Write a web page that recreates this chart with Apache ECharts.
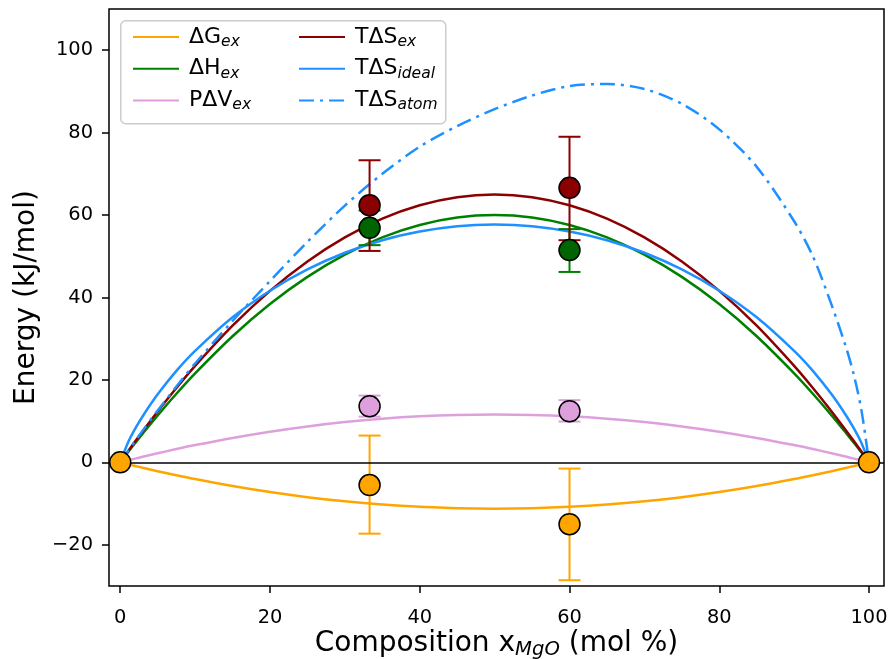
<!DOCTYPE html>
<html><head><meta charset="utf-8">
<script src="https://cdn.jsdelivr.net/npm/echarts@6/dist/echarts.min.js"></script>
<style>html,body{margin:0;padding:0;background:#fff}#c{width:893px;height:659px}</style>
</head><body><div id="c"></div>
<script>
// ---- data ----
const xs        = [0, 1, 2, 3, 5, 7.5, 10, 15, 20, 25, 30, 35, 40, 45, 50, 55, 60, 65, 70, 75, 80, 85, 90, 92.5, 95, 97, 98, 99, 100];
const dGex      = [0, -0.45, -0.88, -1.31, -2.14, -3.12, -4.05, -5.74, -7.2, -8.44, -9.45, -10.24, -10.8, -11.14, -11.25, -11.14, -10.8, -10.24, -9.45, -8.44, -7.2, -5.74, -4.05, -3.12, -2.14, -1.31, -0.88, -0.45, 0];
const dHex      = [0, 2.38, 4.7, 6.98, 11.4, 16.65, 21.6, 30.6, 38.4, 45, 50.4, 54.6, 57.6, 59.4, 60, 59.4, 57.6, 54.6, 50.4, 45, 38.4, 30.6, 21.6, 16.65, 11.4, 6.98, 4.7, 2.38, 0];
const pdVex     = [0, 0.46, 0.91, 1.35, 2.21, 3.23, 4.19, 5.93, 7.44, 8.72, 9.77, 10.58, 11.16, 11.51, 11.63, 11.51, 11.16, 10.58, 9.77, 8.72, 7.44, 5.93, 4.19, 3.23, 2.21, 1.35, 0.91, 0.46, 0];
const tdSex     = [0, 2.57, 5.1, 7.57, 12.35, 18.04, 23.4, 33.15, 41.6, 48.75, 54.6, 59.15, 62.4, 64.35, 65, 64.35, 62.4, 59.15, 54.6, 48.75, 41.6, 33.15, 23.4, 18.04, 12.35, 7.57, 5.1, 2.57, 0];
const tdSideal  = [0, 4.66, 8.16, 11.2, 16.5, 22.2, 27.05, 35.2, 41.65, 46.8, 50.85, 53.9, 56.0, 57.3, 57.7, 57.3, 56.0, 53.9, 50.85, 46.8, 41.65, 35.2, 27.05, 22.2, 16.5, 11.2, 8.16, 4.66, 0];
const tdSatom   = [0, 2.6, 5.2, 7.7, 12.6, 18.4, 24, 34.3, 44, 53.5, 62.3, 70, 76.6, 81.6, 85.7, 89, 91.3, 91.8, 90.6, 87, 80.8, 71.7, 58.5, 50, 38.2, 27.5, 21, 12.5, 0];

const ptX       = [33.3, 60];
const dGPts     = [-5.5, -15.0];
const dGLo      = [-17.3, -28.6];
const dGHi      = [6.5, -1.5];
const dHPts     = [56.9, 51.5];
const dHLo      = [52.7, 46.2];
const dHHi      = [61.1, 56.6];
const pdVPts    = [13.6, 12.4];
const pdVLo     = [11.1, 9.9];
const pdVHi     = [16.2, 15.1];
const tdSPts    = [62.4, 66.6];
const tdSLo     = [51.3, 53.9];
const tdSHi     = [73.3, 79.0];
const endX      = [0, 100];
const endY      = [0, 0];

const xTicks = [0, 20, 40, 60, 80, 100];
const yTicks = [-20, 0, 20, 40, 60, 80, 100];

// ---- chart ----
const FONT = 'DejaVu Sans';
const C = {orange:'#FFA500', green:'#008000', dgreen:'#006400', plum:'#DDA0DD', dred:'#8B0000', blue:'#1E90FF'};
const pairs = (a, b) => a.map((v, i) => [v, b[i]]);

const LBL = {
  dG: '{b|ΔG}{s|ex}', dH: '{b|ΔH}{s|ex}', pV: '{b|PΔV}{s|ex}',
  tS: '{b|TΔS}{s|ex}', tSi: '{b|TΔS}{s|ideal}', tSa: '{b|TΔS}{s|atom}'
};
const RICH = {
  b: {fontFamily: FONT, fontSize: 22, color: '#000', lineHeight: 26, padding: [0, 0, 0, 5]},
  s: {fontFamily: FONT, fontSize: 15.5, fontStyle: 'italic', color: '#000', lineHeight: 26, padding: [10, 0, 0, 0]}
};

function lineSeries(name, data, color, type) {
  return {type: 'line', name, data: pairs(xs, data), symbol: 'none', smooth: 0.3,
    lineStyle: {color, width: 2.5, type: type || 'solid'}, itemStyle: {color}, z: 2, silent: true};
}
function errSeries(name, lo, hi, color) {
  return {type: 'custom', name, data: ptX.map((v, i) => [v, lo[i], hi[i]]), encode: {x: 0, y: [1, 2]}, z: 3, silent: true,
    renderItem: (params, api) => {
      const xv = api.value(0);
      const a = api.coord([xv, api.value(1)]);
      const b = api.coord([xv, api.value(2)]);
      const w = 11; const st = {stroke: color, lineWidth: 2};
      return {type: 'group', children: [
        {type: 'line', shape: {x1: a[0], y1: a[1], x2: b[0], y2: b[1]}, style: st},
        {type: 'line', shape: {x1: a[0] - w, y1: a[1], x2: a[0] + w, y2: a[1]}, style: st},
        {type: 'line', shape: {x1: b[0] - w, y1: b[1], x2: b[0] + w, y2: b[1]}, style: st}
      ]};
    }};
}
function ptSeries(name, x, y, color, z) {
  return {type: 'scatter', name, data: pairs(x, y), symbol: 'circle', symbolSize: 21, silent: true,
    itemStyle: {color, borderColor: '#000', borderWidth: 1.5, opacity: 1}, z: z || 4};
}

const negFmt = v => v < 0 ? '\u2212' + (-v) : '' + v;
const legendCommon = {orient: 'vertical', top: 19, itemWidth: 46, itemHeight: 12, itemGap: 5.7, selectedMode: false, z: 11,
  itemStyle: {color: 'rgba(0,0,0,0)', borderColor: 'rgba(0,0,0,0)', borderWidth: 0},
  formatter: n => LBL[n], textStyle: {fontFamily: FONT, fontSize: 22, color: '#000', rich: RICH}};

const option = {
  animation: false,
  backgroundColor: '#fff',
  grid: {left: 109, right: 9, top: 9, bottom: 73, outerBoundsMode: 'none', containLabel: false,
    show: true, borderColor: '#000', borderWidth: 1.5, backgroundColor: 'transparent'},
  xAxis: {
    type: 'value', min: -1.5, max: 102,
    axisLine: {show: false, onZero: false}, splitLine: {show: false},
    axisTick: {show: true, length: 7, inside: false, lineStyle: {color: '#000', width: 1.5}, customValues: xTicks},
    axisLabel: {customValues: xTicks, fontFamily: FONT, fontSize: 19.4, color: '#000', margin: 22, formatter: negFmt},
    name: 'Composition x{s|MgO} (mol %)', nameLocation: 'middle', nameGap: 41, nameMoveOverlap: false,
    nameTextStyle: {fontFamily: FONT, fontSize: 28, color: '#000', lineHeight: 34,
      rich: {s: {fontFamily: FONT, fontSize: 19.6, fontStyle: 'italic', color: '#000', lineHeight: 34, padding: [12, 0, 0, 0]}}}
  },
  yAxis: {
    type: 'value', min: -30, max: 110,
    axisLine: {show: false, onZero: false}, splitLine: {show: false},
    axisTick: {show: true, length: 7, inside: false, lineStyle: {color: '#000', width: 1.5}, customValues: yTicks},
    axisLabel: {customValues: yTicks, fontFamily: FONT, fontSize: 19.4, color: '#000', margin: 16, formatter: negFmt},
    name: 'Energy (kJ/mol)', nameLocation: 'middle', nameGap: 68,
    nameTextStyle: {fontFamily: FONT, fontSize: 28, color: '#000'}
  },
  graphic: [{type: 'rect', left: 120, top: 20, z: 10, silent: true,
    shape: {width: 325, height: 103, r: 5},
    style: {fill: 'rgba(255,255,255,0.8)', stroke: '#cccccc', lineWidth: 1.5}}],
  legend: [
    Object.assign({}, legendCommon, {left: 127, data: ['dG', 'dH', 'pV']}),
    Object.assign({}, legendCommon, {left: 293, data: ['tS', 'tSi', 'tSa']})
  ],
  series: [
    Object.assign(lineSeries('dG', dGex, C.orange), {
      markLine: {silent: true, symbol: 'none', label: {show: false}, animation: false,
        lineStyle: {color: '#000', width: 1.5, type: 'solid'}, data: [{yAxis: 0}]}}),
    lineSeries('dH', dHex, C.green),
    lineSeries('pV', pdVex, C.plum),
    lineSeries('tS', tdSex, C.dred),
    lineSeries('tSi', tdSideal, C.blue),
    lineSeries('tSa', tdSatom, C.blue, [15, 6, 3, 6]),
    errSeries('dG_err', dGLo, dGHi, C.orange),
    errSeries('dH_err', dHLo, dHHi, C.green),
    errSeries('pV_err', pdVLo, pdVHi, C.plum),
    errSeries('tS_err', tdSLo, tdSHi, C.dred),
    ptSeries('dG_pts', ptX, dGPts, C.orange),
    ptSeries('dH_pts', ptX, dHPts, C.dgreen),
    ptSeries('pV_pts', ptX, pdVPts, C.plum),
    ptSeries('tS_pts', ptX, tdSPts, C.dred),
    ptSeries('end_pts', endX, endY, C.orange, 5)
  ]
};
const chart = echarts.init(document.getElementById('c'), null, {renderer: 'canvas'});
chart.setOption(option);
</script>
</body></html>
